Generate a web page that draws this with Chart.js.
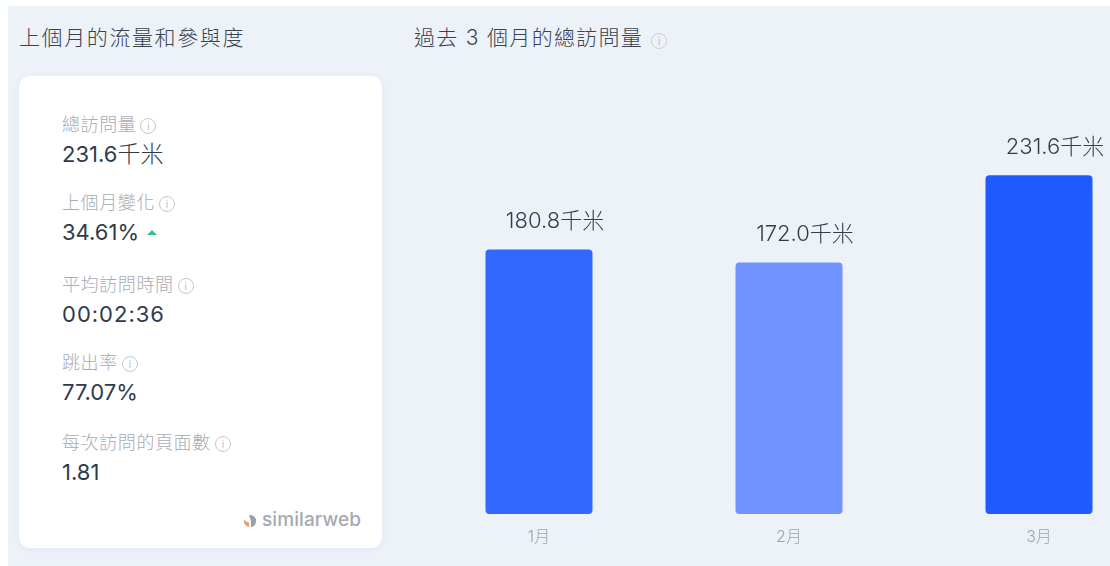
<!DOCTYPE html>
<html>
<head>
<meta charset="utf-8">
<script src="https://cdn.jsdelivr.net/npm/chart.js@4"></script>
<style>
html, body { margin: 0; padding: 0; width: 1110px; height: 566px; overflow: hidden; background: #fff; }
body, canvas { font-family: Inter, "Noto Sans CJK TC", sans-serif; }
#panel { position: absolute; left: 8px; top: 6px; width: 1102px; height: 560px; background: #edf2f9; }
.title { position: absolute; top: 25px; font-size: 21px; line-height: 26px; color: #3a4250; font-weight: 300; letter-spacing: 1.6px; white-space: nowrap; }
#card { position: absolute; left: 19px; top: 76px; width: 363px; height: 472px; background: #fff; border-radius: 11px; box-shadow: 0 1px 6px rgba(120,140,180,.10); }
.stat-label { position: absolute; font-size: 18px; line-height: 20px; color: #a8acb3; font-weight: 300; letter-spacing: .6px; white-space: nowrap; }
.stat-value { position: absolute; font-size: 22px; line-height: 26px; color: #2f3a4c; font-weight: 400; white-space: nowrap; }
.stat-value .unit { font-weight: 300; font-size: 23px; }
.info { display: inline-block; box-sizing: border-box; width: 16px; height: 16px; margin-left: 4px; border: 1px solid #c4c8ce; border-radius: 50%; font: 300 10px/14px Inter, sans-serif; letter-spacing: 0; color: #a2a6ad; text-align: center; vertical-align: 1px; }
.up { display: inline-block; width: 0; height: 0; margin-left: 8px; vertical-align: 5px; border-left: 5px solid transparent; border-right: 5px solid transparent; border-bottom: 5px solid #35c09a; }
#brand { position: absolute; left: 243px; top: 508px; font: 500 19px/24px Inter, sans-serif; color: #a4a9b2; letter-spacing: .1px; white-space: nowrap; }
#brand svg { vertical-align: -2px; margin-right: 5px; }
#chartBox { position: absolute; left: 414px; top: 76px; width: 750px; height: 490px; }
</style>
</head>
<body>
<div id="panel"></div>
<div class="title" style="left:19px">上個月的流量和參與度</div>
<div class="title" style="left:414px;letter-spacing:1.3px">過去 3 個月的總訪問量<span class="info" style="margin-left:8px;vertical-align:0;border-color:#cdd2d9">i</span></div>
<div id="card"></div>
<div id="stats"></div>
<div id="brand"><svg width="14" height="14" viewBox="0 0 14 14"><path d="M1 6a6 6 0 0 0 5 7V9z" fill="#f29a66"/><path d="M6 1a6 6 0 0 1 7 7 6 6 0 0 1-5 5V7z" fill="#9aa0aa"/></svg>similarweb</div>
<div id="chartBox"><canvas id="visitsChart"></canvas></div>
<script>
var months = ['1月', '2月', '3月'];
var visits = [180.8, 172.0, 231.6];
var unit = '千米';

var statLabels = ['總訪問量', '上個月變化', '平均訪問時間', '跳出率', '每次訪問的頁面數'];
var statValues = ['231.6', '34.61%', '00:02:36', '77.07%', '1.81'];
var statUnits = ['千米', '', '', '', ''];
var statRising = [false, true, false, false, false];

var barColors = ['#3368ff', '#7093ff', '#1f5bff'];

// left card
var statsEl = document.getElementById('stats');
var rowTops = [115, 193, 275, 353, 433];
for (var i = 0; i < statLabels.length; i++) {
    var html = '<div class="stat-label" style="left:62px;top:' + rowTops[i] + 'px">' + statLabels[i] + '<span class="info">i</span></div>';
    // the clock value is set wider in the original font
    var spacing = statValues[i].indexOf(':') > -1 ? 'letter-spacing:1px;' : '';
    html += '<div class="stat-value" style="left:62px;' + spacing + 'top:' + (rowTops[i] + 26) + 'px">' + statValues[i];
    if (statUnits[i]) html += '<span class="unit">' + statUnits[i] + '</span>';
    if (statRising[i]) html += '<span class="up"></span>';
    html += '</div>';
    statsEl.insertAdjacentHTML('beforeend', html);
}

// value labels sit a bit right of the bar centre, as in the original
var valueLabels = {
    id: 'valueLabels',
    afterDatasetsDraw: function(chart) {
        var ctx = chart.ctx;
        var bars = chart.getDatasetMeta(0).data;
        ctx.save();
        ctx.font = '300 22px Inter, "Noto Sans CJK TC", sans-serif';
        ctx.fillStyle = '#343c48';
        ctx.textAlign = 'center';
        ctx.textBaseline = 'middle';
        for (var i = 0; i < bars.length; i++) {
            ctx.fillText(visits[i].toFixed(1) + unit, bars[i].x + 16, bars[i].y - 28);
        }
        ctx.restore();
    }
};

new Chart(document.getElementById('visitsChart').getContext('2d'), {
    type: 'bar',
    data: {
        labels: months,
        datasets: [{
            data: visits,
            backgroundColor: barColors,
            borderRadius: 4,
            borderSkipped: false,
            barPercentage: 1,
            categoryPercentage: 0.428
        }]
    },
    options: {
        responsive: true,
        maintainAspectRatio: false,
        animation: false,
        layout: { padding: 0 },
        plugins: { legend: { display: false }, tooltip: { enabled: false } },
        scales: {
            y: { display: false, min: 0, max: 299.5 },
            x: {
                grid: { display: false },
                border: { display: false },
                afterFit: function(scale) { scale.height = 52; },
                ticks: {
                    color: '#9ea3ab',
                    padding: 6,
                    maxRotation: 0,
                    font: { size: 16, weight: '300', family: 'Inter, "Noto Sans CJK TC", sans-serif' }
                }
            }
        }
    },
    plugins: [valueLabels]
});
</script>
</body>
</html>
